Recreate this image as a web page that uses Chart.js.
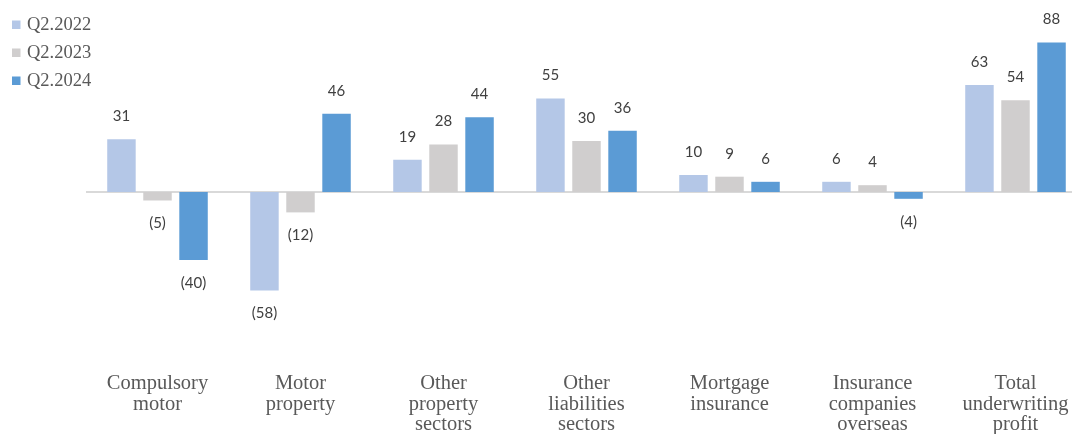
<!DOCTYPE html>
<html>
<head>
<meta charset="utf-8">
<script src="https://cdn.jsdelivr.net/npm/chart.js@4.4.1/dist/chart.umd.min.js"></script>
<style>
  html, body { margin: 0; padding: 0; background: #fff; overflow: hidden; }
  #wrap { width: 1072px; height: 434px; overflow: hidden; position: relative; }
  #box { width: 1092px; height: 434px; position: absolute; left: 0; top: 0; }
</style>
</head>
<body>
<div id="wrap"><div id="box"><canvas id="c"></canvas></div></div>
<script>
const categories = [
  ["Compulsory", "motor"],
  ["Motor", "property"],
  ["Other", "property", "sectors"],
  ["Other", "liabilities", "sectors"],
  ["Mortgage", "insurance"],
  ["Insurance", "companies", "overseas"],
  ["Total", "underwriting", "profit"]
];
const seriesNames = ["Q2.2022", "Q2.2023", "Q2.2024"];
const q2_2022 = [31, -58, 19, 55, 10, 6, 63];
const q2_2023 = [-5, -12, 28, 30, 9, 4, 54];
const q2_2024 = [-40, 46, 44, 36, 6, -4, 88];
const seriesColors = ["#B4C7E7", "#D0CECE", "#5B9BD5"];

const fmt = v => v < 0 ? "(" + (-v) + ")" : String(v);

const valueLabels = {
  id: "valueLabels",
  afterDatasetsDraw(chart) {
    const ctx = chart.ctx;
    ctx.save();
    ctx.font = "15px Lato, 'Open Sans', sans-serif";
    ctx.fillStyle = "#404040";
    ctx.textAlign = "center";
    ctx.textBaseline = "middle";
    chart.data.datasets.forEach((ds, di) => {
      const meta = chart.getDatasetMeta(di);
      meta.data.forEach((el, i) => {
        const v = ds.data[i];
        const y = v >= 0 ? el.y - 23 : el.y + 23;
        ctx.fillText(fmt(v), el.x, y);
      });
    });
    ctx.restore();
  }
};

const zeroLine = {
  id: "zeroLine",
  beforeDatasetsDraw(chart) {
    const ctx = chart.ctx;
    const y = chart.scales.y.getPixelForValue(0);
    ctx.save();
    ctx.strokeStyle = "#D9D9D9";
    ctx.lineWidth = 2;
    ctx.beginPath();
    ctx.moveTo(chart.chartArea.left, y);
    ctx.lineTo(chart.chartArea.right, y);
    ctx.stroke();
    ctx.restore();
  }
};

const customLegend = {
  id: "customLegend",
  afterDraw(chart) {
    const ctx = chart.ctx;
    ctx.save();
    ctx.font = "18.5px 'Liberation Serif', 'Times New Roman', serif";
    ctx.textBaseline = "middle";
    ctx.textAlign = "left";
    chart.data.datasets.forEach((ds, i) => {
      const cy = 24.5 + i * 28;
      ctx.fillStyle = ds.backgroundColor;
      ctx.fillRect(12, cy - 4, 8.5, 8.5);
      ctx.fillStyle = "#595959";
      ctx.fillText(ds.label, 27, cy + 1);
    });
    ctx.restore();
  }
};

new Chart(document.getElementById("c"), {
  type: "bar",
  data: {
    labels: categories,
    datasets: [
      { label: seriesNames[0], data: q2_2022, backgroundColor: seriesColors[0] },
      { label: seriesNames[1], data: q2_2023, backgroundColor: seriesColors[1] },
      { label: seriesNames[2], data: q2_2024, backgroundColor: seriesColors[2] }
    ]
  },
  options: {
    responsive: true,
    maintainAspectRatio: false,
    animation: false,
    datasets: { bar: { categoryPercentage: 0.756, barPercentage: 0.79 } },
    layout: { padding: { left: 86, right: 5, top: 22, bottom: 0 } },
    plugins: { legend: { display: false }, tooltip: { enabled: false } },
    scales: {
      y: { display: false, min: -100, max: 100 },
      x: {
        grid: { display: false, drawTicks: false },
        border: { display: false },
        ticks: {
          color: "#595959",
          font: { family: "'Liberation Serif', 'Times New Roman', serif", size: 20.5, lineHeight: 0.98 },
          padding: 12,
          maxRotation: 0,
          autoSkip: false
        },
        afterFit(scale) { scale.height = 72; }
      }
    }
  },
  plugins: [zeroLine, valueLabels, customLegend]
});
</script>
</body>
</html>
